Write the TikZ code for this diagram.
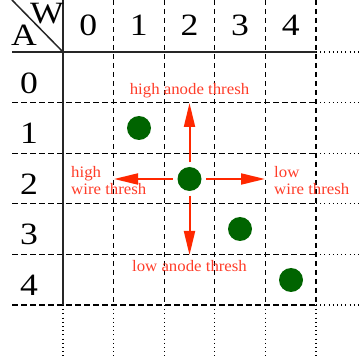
\documentclass[tikz,border=0pt]{standalone}
\usepackage{fontspec}
\setmainfont{Liberation Serif}
\usetikzlibrary{arrows.meta}
\definecolor{arrowred}{RGB}{255,40,0}
\definecolor{labelred}{RGB}{255,60,40}
\definecolor{dotgreen}{RGB}{0,100,0}
\newcommand{\wx}[1]{\scalebox{1.15}[1]{#1}}
\newcommand{\lx}[1]{\scalebox{1.05}[1]{#1}}
\begin{document}
\begin{tikzpicture}[x=1pt,y=-1pt,
  solidline/.style={line width=1.5pt, black!85},
  gridline/.style={line width=1.2pt, dash pattern=on 5.5pt off 3.5pt},
  dotline/.style={line width=1.1pt, dash pattern=on 1pt off 3.2pt},
  dig/.style={font=\fontsize{31}{33}\selectfont, inner sep=0pt},
  lbl/.style={text=labelred, font=\fontsize{16}{18}\selectfont, inner sep=0pt},
  gdot/.style={circle, fill=dotgreen, minimum size=24pt, inner sep=0pt},
  redarrow/.style={color=arrowred, line width=2pt, shorten <=4.5pt, -{Triangle[length=24pt,width=11pt]}}]
\useasboundingbox (0,0) rectangle (359,358);
% grid
\foreach \x in {113.6,164.2,214.8,265.4,316} {
  \draw[gridline] (\x,0) -- (\x,305);
}
\foreach \y in {102.6,153.2,203.8,254.4,305} {
  \draw[gridline] (12,\y) -- (316,\y);
}
\foreach \y in {52,102.6,153.2,203.8,254.4,305} {
  \draw[dotline] (316,\y) -- (359,\y);
}
\foreach \x in {63,113.6,164.2,214.8,265.4,316} {
  \draw[dotline] (\x,305) -- (\x,358);
}
\draw[solidline] (12,52) -- (316,52);
\draw[solidline] (63,0) -- (63,305);
\draw[solidline] (12,0) -- (63,52);
% headers
\node[dig] (hW) at (47,14) {\wx{W}};
\node[dig] (hA) at (24,35) {\wx{A}};
\foreach \i/\x in {0/88.3,1/138.9,2/189.5,3/240.1,4/290.7} {
  \node[dig] (c\i) at (\x,25) {\wx{\i}};
}
\foreach \i/\y in {0/83,1/133.5,2/184,3/234.5,4/285} {
  \node[dig] (r\i) at (29,\y) {\wx{\i}};
}
% dots
\node[gdot] (d1) at (139,128) {};
\node[gdot] (d2) at (189.5,179) {};
\node[gdot] (d3) at (240,229) {};
\node[gdot] (d4) at (291,280) {};
% arrows
\coordinate (tu) at (189.5,103);
\coordinate (td) at (189.5,255);
\coordinate (tl) at (114,179);
\coordinate (tr) at (265,179);
\draw[redarrow] (d2) -- (tu);
\draw[redarrow] (d2) -- (td);
\draw[redarrow] (d2) -- (tl);
\draw[redarrow] (d2) -- (tr);
% labels
\node[lbl, anchor=base] (lha) at (189.5,95) {\lx{high anode thresh}};
\node[lbl, anchor=base] (lla) at (189.5,272) {\lx{low anode thresh}};
\node[lbl, anchor=base west] (lhw1) at (71,178) {\lx{high}};
\node[lbl, anchor=base west] (lhw2) at (71,195) {\lx{wire thresh}};
\node[lbl, anchor=base west] (llw1) at (274,178) {\lx{low}};
\node[lbl, anchor=base west] (llw2) at (274,195) {\lx{wire thresh}};
\end{tikzpicture}
\end{document}
